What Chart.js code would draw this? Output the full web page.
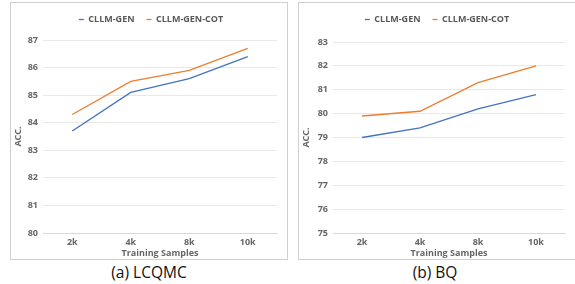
<!DOCTYPE html>
<html lang="en">
<head>
    <meta charset="UTF-8">
    <title>CLLM training samples</title>
    <script src="https://cdn.jsdelivr.net/npm/chart.js"></script>
    <style>
        body {
            margin: 0;
            width: 575px;
            height: 284px;
            overflow: hidden;
            background: #fff;
            position: relative;
            font-family: "Open Sans", "Noto Sans", sans-serif;
        }
        .panel {
            position: absolute;
            top: 2px;
            height: 258px;
            border: 1px solid #d0d0d0;
            box-sizing: border-box;
        }
        .caption {
            position: absolute;
            top: 262px;
            font-size: 15.5px;
            color: #111;
            text-align: center;
            line-height: 20px;
        }
    </style>
</head>
<body>
    <div class="panel" style="left:10px; width:278px;"><canvas id="chart-a"></canvas></div>
    <div class="panel" style="left:298px; width:282px;"><canvas id="chart-b"></canvas></div>
    <div class="caption" style="left:10px; width:278px;">(a) LCQMC</div>
    <div class="caption" style="left:298px; width:274px;">(b) BQ</div>

    <script>
        const samples = ['2k', '4k', '8k', '10k'];
        const seriesNames = ['CLLM-GEN', 'CLLM-GEN-COT'];

        // LCQMC
        const lcqmcGen = [83.7, 85.1, 85.6, 86.4];
        const lcqmcCot = [84.3, 85.5, 85.9, 86.7];

        // BQ
        const bqGen = [79.0, 79.4, 80.2, 80.8];
        const bqCot = [79.9, 80.1, 81.3, 82.0];

        const blue = '#4472C4';
        const orange = '#ED7D31';
        const tickColor = '#666666';
        const font = '"Open Sans", "Noto Sans", sans-serif';

        // fixes the legend height so the plot starts where it should,
        // and nudges it right so it sits centred in the panel
        function legendBox(h, shift) {
            return {
                id: 'legendBox',
                beforeInit(chart) {
                    const fit = chart.legend.fit;
                    chart.legend.fit = function () {
                        fit.bind(chart.legend)();
                        this.height = h;
                    };
                },
                afterLayout(chart) {
                    chart.legend.left += shift;
                    chart.legend.right += shift;
                }
            };
        }

        function makeChart(id, gen, cot, yMin, yMax, opts) {
            const ctx = document.getElementById(id).getContext('2d');
            return new Chart(ctx, {
                type: 'line',
                data: {
                    labels: samples,
                    datasets: [
                        { label: seriesNames[0], data: gen, borderColor: blue, backgroundColor: blue,
                          borderWidth: 1.3, pointRadius: 0, tension: 0, fill: false },
                        { label: seriesNames[1], data: cot, borderColor: orange, backgroundColor: orange,
                          borderWidth: 1.3, pointRadius: 0, tension: 0, fill: false }
                    ]
                },
                options: {
                    responsive: true,
                    maintainAspectRatio: false,
                    animation: false,
                    layout: { padding: { left: 0, right: opts.padRight, top: 0, bottom: 0 } },
                    plugins: {
                        tooltip: { enabled: false },
                        legend: {
                            position: 'top',
                            labels: {
                                usePointStyle: true,
                                pointStyle: 'line',
                                pointStyleWidth: 5,
                                boxHeight: 5,
                                padding: 12,
                                color: '#595959',
                                font: { family: font, size: 9, weight: 'bold' }
                            }
                        }
                    },
                    scales: {
                        x: {
                            offset: true,
                            grid: { display: false, drawTicks: false },
                            border: { color: '#d9d9d9' },
                            ticks: { color: tickColor, padding: 4, font: { family: font, size: 9, weight: 'bold' } },
                            title: {
                                display: true, text: 'Training Samples', color: tickColor,
                                padding: { top: 0, bottom: 0 },
                                font: { family: font, size: 9, weight: 'bold' }
                            },
                            afterFit(scale) { scale.height = 26; }
                        },
                        y: {
                            min: yMin,
                            max: yMax,
                            ticks: { stepSize: 1, color: tickColor, padding: 5, font: { family: font, size: 9, weight: 'bold' } },
                            grid: { color: '#e8e8e8', drawTicks: false },
                            border: { display: false },
                            title: {
                                display: true, text: 'ACC.', color: tickColor,
                                padding: { top: 2, bottom: 0 },
                                font: { family: font, size: 9, weight: 'bold' }
                            },
                            afterFit(scale) { scale.width = opts.yWidth; }
                        }
                    }
                },
                plugins: [legendBox(opts.legendH, opts.legendShift)]
            });
        }

        makeChart('chart-a', lcqmcGen, lcqmcCot, 80, 87, { padRight: 10, yWidth: 32, legendH: 37, legendShift: 7 });
        makeChart('chart-b', bqGen, bqCot, 75, 83, { padRight: 14, yWidth: 34, legendH: 39, legendShift: 5 });
    </script>
</body>
</html>
